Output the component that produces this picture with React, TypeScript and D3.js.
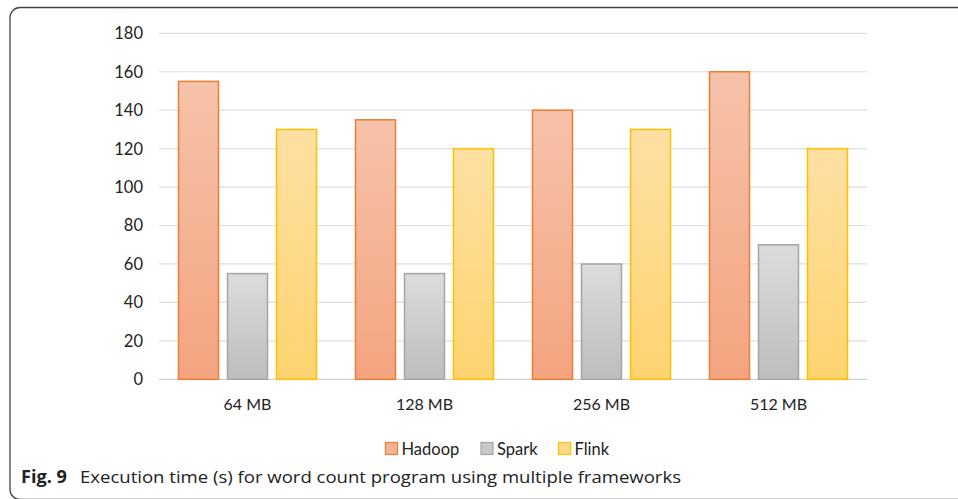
import React from "react";
import * as d3 from "d3";

const categories = ["64 MB", "128 MB", "256 MB", "512 MB"];
const seriesNames = ["Hadoop", "Spark", "Flink"];
const hadoop = [155, 135, 140, 160];
const spark = [55, 55, 60, 70];
const flink = [130, 120, 130, 120];
const yTicks = [0, 20, 40, 60, 80, 100, 120, 140, 160, 180];

const styles = [
  { top: "#f6c2aa", bottom: "#f4a47f", stroke: "#ed7d31", legend: "#f5b396" },
  { top: "#dcdcdc", bottom: "#bdbdbd", stroke: "#a5a5a5", legend: "#c8c8c8" },
  { top: "#fee0a3", bottom: "#fed470", stroke: "#ffc000", legend: "#fed98a" },
];

export default function App() {
  const W = 958, H = 499;
  const left = 159, right = 867, top = 33.3, bottom = 379.3;
  const x0 = d3.scaleBand<string>().domain(categories).range([left, right]).padding(0);
  const y = d3.scaleLinear().domain([0, 180]).range([bottom, top]);
  const data = [hadoop, spark, flink];
  const barW = 40, step = 49;
  const font = "Lato, 'Open Sans', sans-serif";
  const capFont = "'Open Sans', 'Noto Sans', sans-serif";

  return (
    <svg width={W} height={H} style={{ position: "absolute", left: 0, top: 0 }}>
      <defs>
        {styles.map((s, i) => (
          <linearGradient key={i} id={`g${i}`} x1="0" y1="0" x2="0" y2="1">
            <stop offset="0" stopColor={s.top} />
            <stop offset="1" stopColor={s.bottom} />
          </linearGradient>
        ))}
      </defs>
      <rect x={0} y={0} width={W} height={H} fill="#fff" />
      <rect x={10} y={7.5} width={1000} height={492} rx={10} ry={10} fill="none" stroke="#444" strokeWidth={1.3} />
      {yTicks.map((t) => (
        <g key={t}>
          <line x1={left} x2={right} y1={y(t)} y2={y(t)} stroke={t === 0 ? "#d0d0d0" : "#dedede"} strokeWidth={1.2} />
          <text x={143} y={y(t)} dy="0.36em" textAnchor="end" fontFamily={font} fontSize={16.5} fill="#222">{t}</text>
        </g>
      ))}
      {categories.map((c, ci) => {
        const cx = x0(c)! + x0.bandwidth() / 2;
        return (
          <g key={c}>
            {data.map((arr, si) => {
              const bx = cx + (si - 1) * step - barW / 2;
              return (
                <rect key={si} x={bx} y={y(arr[ci])} width={barW} height={bottom - y(arr[ci])}
                  fill={`url(#g${si})`} stroke={styles[si].stroke} strokeWidth={1.5} />
              );
            })}
            <text x={cx} y={410} textAnchor="middle" fontFamily={font} fontSize={16} fill="#222">{c}</text>
          </g>
        );
      })}
      {(() => {
        const xs = [385.5, 481, 558.5];
        return seriesNames.map((n, i) => (
          <g key={n}>
            <rect x={xs[i]} y={442.5} width={12} height={12} fill={styles[i].legend} stroke={styles[i].stroke} strokeWidth={1.2} />
            <text x={xs[i] + 16} y={455} fontFamily={font} fontSize={16.5} fill="#222">{n}</text>
          </g>
        ));
      })()}
      <text x={21} y={483} fontFamily={capFont} fontSize={17} fontWeight="bold" fill="#222"
        textLength={46} lengthAdjust="spacingAndGlyphs">Fig. 9</text>
      <text x={80} y={483} fontFamily={capFont} fontSize={17} fill="#222"
        textLength={601} lengthAdjust="spacingAndGlyphs">Execution time (s) for word count program using multiple frameworks</text>
    </svg>
  );
}
